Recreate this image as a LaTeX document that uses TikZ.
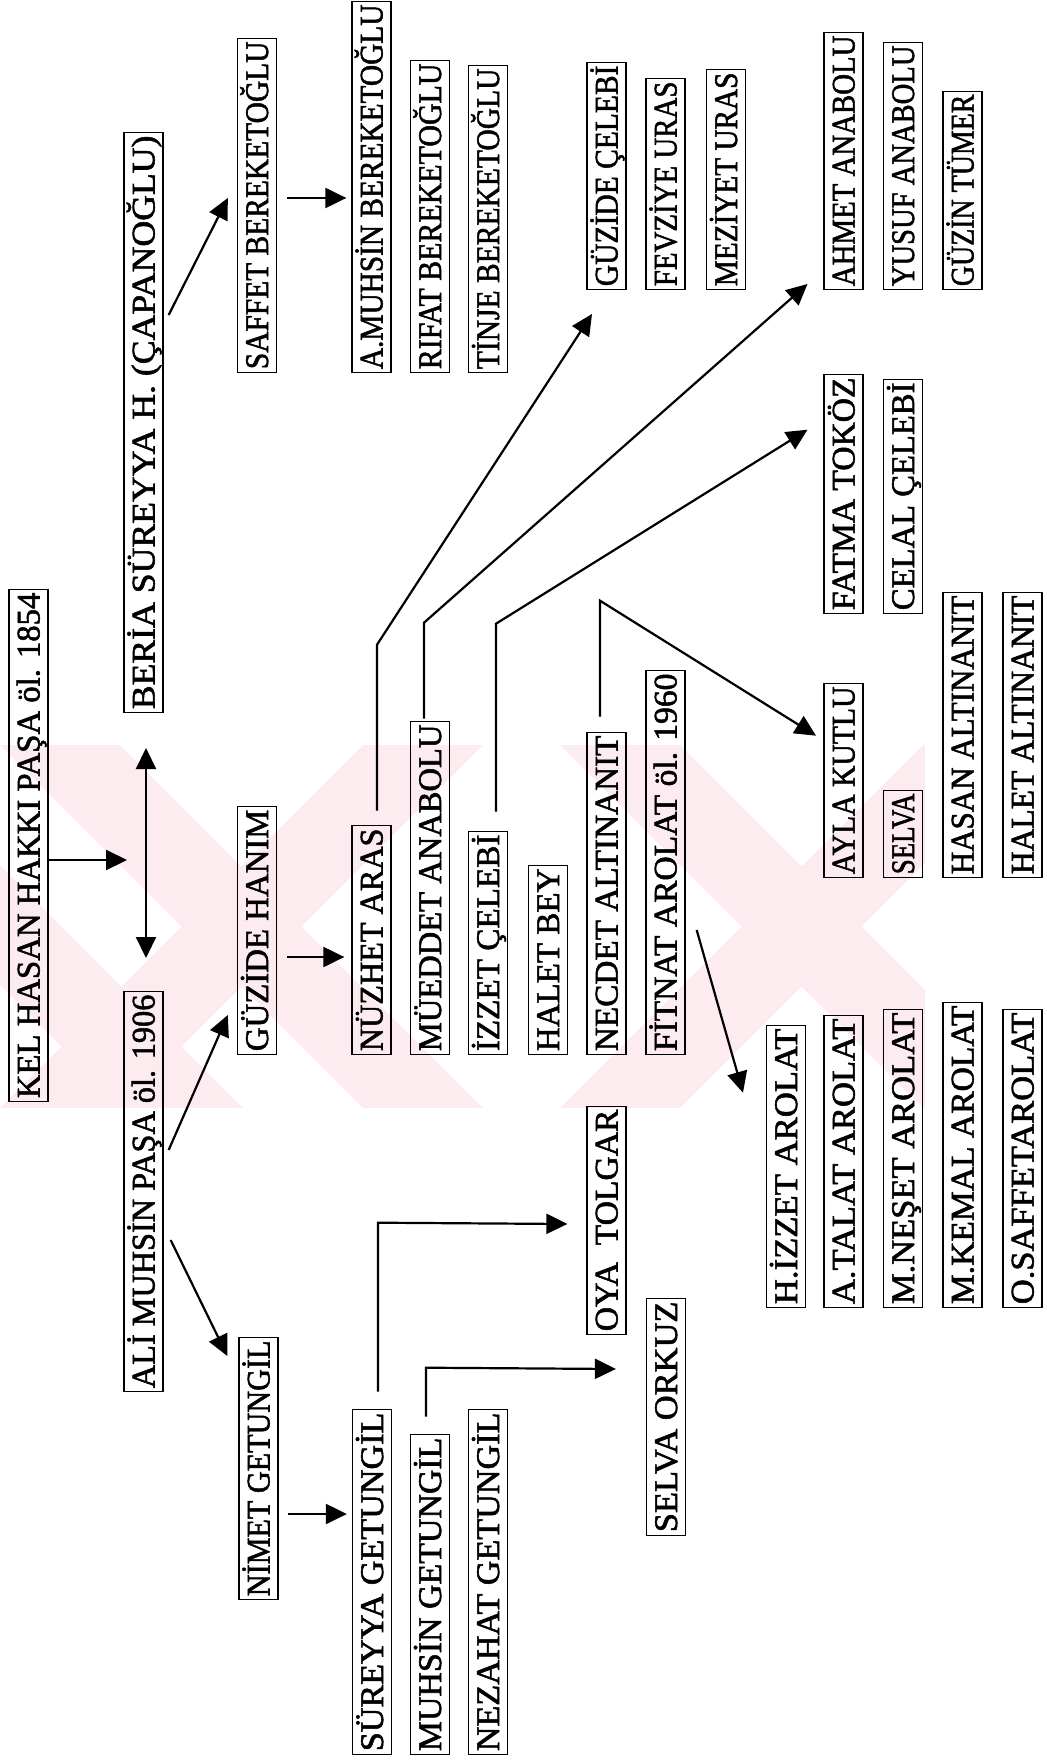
\documentclass[tikz,border=0pt]{standalone}
\usepackage{fontspec}
\setmainfont{Liberation Serif}
\newfontfamily\nmfont{Liberation Serif}[FakeBold=1.6]
\usetikzlibrary{arrows.meta,calc}
\definecolor{wm}{RGB}{253,236,239}
\tikzset{
  nm/.style={draw=black, line width=0.65pt, rotate=90, anchor=west, inner xsep=1.2pt, inner ysep=0pt,
    minimum height=19.5pt, text height=11pt, text depth=0pt, font=\nmfont\fontsize{16.5}{16}\selectfont},
  arr/.style={line width=1.1pt, -{Triangle[length=10.5pt,width=10pt]}},
  darr/.style={line width=1.1pt, {Triangle[length=10.5pt,width=10pt]}-{Triangle[length=10.5pt,width=10pt]}},
  wmark/.style={fill=wm, draw=none},
}
\newcommand\bx[5]{%
  \pgfmathsetmacro\bxlen{(#3-#4)*0.5}%
  \pgfmathsetmacro\bxtxt{\bxlen-3.2}%
  \node[nm, minimum width=\bxlen pt] (#1) at (#2,#3) {\resizebox{\bxtxt pt}{\height}{#5}};}
\begin{document}
\begin{tikzpicture}[x=0.5pt,y=-0.5pt]
\useasboundingbox (0,0) rectangle (1047,1764);
% watermark
\begin{scope}
\clip (0,745) rectangle (925,1108);
\fill[wmark] (0,745) -- (120,745) -- (483,1108) -- (363,1108) -- cycle;
\fill[wmark] (363,745) -- (483,745) -- (120,1108) -- (0,1108) -- cycle;
\fill[wmark] (-240,745) -- (-120,745) -- (243,1108) -- (123,1108) -- cycle;
\fill[wmark] (560,745) -- (680,745) -- (1043,1108) -- (923,1108) -- cycle;
\fill[wmark] (923,745) -- (1043,745) -- (680,1108) -- (560,1108) -- cycle;
\end{scope}
% column 1-2
\bx{KEL}{28.5}{1102}{590}{KEL HASAN HAKKI PAŞA öl. 1854}
\bx{BERIA}{143.5}{713}{133}{BERİA SÜREYYA H. (ÇAPANOĞLU)}
\bx{ALI}{143.5}{1392}{992}{ALİ MUHSİN PAŞA öl. 1906}
% column 3
\bx{SAFFET}{257}{373}{39}{SAFFET BEREKETOĞLU}
\bx{GUZH}{257}{1055}{807}{GÜZİDE HANIM}
\bx{NIMET}{258.5}{1600}{1338}{NİMET GETUNGİL}
% column 4-7
\bx{AMUH}{371.5}{373}{2}{A.MUHSİN BEREKETOĞLU}
\bx{NUZ}{371.5}{1055}{826}{NÜZHET ARAS}
\bx{SURG}{372}{1755}{1410}{SÜREYYA GETUNGİL}
\bx{RIFAT}{430}{373}{61}{RIFAT BEREKETOĞLU}
\bx{MUED}{430}{1055}{722}{MÜEDDET ANABOLU}
\bx{MUHG}{430}{1755}{1435}{MUHSİN GETUNGİL}
\bx{TINJE}{488}{373}{66}{TİNJE BEREKETOĞLU}
\bx{IZZ}{488}{1055}{832}{İZZET ÇELEBİ}
\bx{NEZ}{488}{1755}{1410}{NEZAHAT GETUNGİL}
\bx{HALB}{548}{1055}{866}{HALET BEY}
% column 8-10
\bx{GUZC}{606.5}{290}{63}{GÜZİDE ÇELEBİ}
\bx{NEC}{606.5}{1055}{733}{NECDET ALTINANIT}
\bx{OYA}{606.5}{1335}{1107}{OYA\ \ TOLGAR}
\bx{FEV}{665.5}{290}{79}{FEVZİYE URAS}
\bx{FIT}{665.5}{1055}{671}{FİTNAT AROLAT öl. 1960}
\bx{SELO}{666}{1536}{1299}{SELVA ORKUZ}
\bx{MEZ}{726}{290}{70}{MEZİYET URAS}
% column 11-15
\bx{HIZ}{786}{1308}{1026}{H.İZZET AROLAT}
\bx{AHM}{843.5}{290}{33}{AHMET ANABOLU}
\bx{FAT}{843.5}{614}{375}{FATMA TOKÖZ}
\bx{AYLA}{843.5}{878}{684}{AYLA KUTLU}
\bx{ATAL}{843.5}{1308}{1016}{A.TALAT AROLAT}
\bx{YUS}{903}{290}{43}{YUSUF ANABOLU}
\bx{CEL}{903}{614}{380}{CELAL ÇELEBİ}
\bx{SEL}{903}{878}{791}{SELVA}
\bx{MNES}{903}{1308}{1010}{M.NEŞET AROLAT}
\bx{GUZT}{962.5}{290}{92}{GÜZİN TÜMER}
\bx{HAS}{962.5}{878}{593}{HASAN ALTINANIT}
\bx{MKEM}{962.5}{1308}{1003}{M.KEMAL AROLAT}
\bx{HALA}{1022.5}{878}{593}{HALET ALTINANIT}
\bx{OSAF}{1022.5}{1308}{1010}{O.SAFFETAROLAT}
% connectors
\coordinate (kelT) at (127,860);
\draw[arr] (KEL.south |- kelT) -- (kelT);
\coordinate (dA) at (146,748);
\coordinate (dB) at (146,958);
\draw[darr] (dA) -- (dB);
\draw[arr] ($(BERIA.south |- 0,315)+(5,0)$) -- ($(SAFFET.north |- 0,198)+(-9,0)$);
\draw[arr] ($(ALI.south |- 0,1150)+(5,0)$) -- ($(GUZH.north |- 0,1015)+(-9,0)$);
\draw[arr] ($(ALI.south |- 0,1240)+(7,0)$) -- ($(NIMET.north |- 0,1356)+(-11,0)$);
\draw[arr] ($(SAFFET.south |- 0,198)+(10,0)$) -- ($(AMUH.north |- 0,198)+(-5,0)$);
\draw[arr] ($(GUZH.south |- 0,957)+(10,0)$) -- ($(NUZ.north |- 0,957)+(-7,0)$);
\draw[arr] ($(NIMET.south |- 0,1514)+(9,0)$) -- ($(SURG.north |- 0,1514)+(-5,0)$);
\draw[arr] ($(NUZ.east)+(5.5,-14)$) -- ++(0,-166) -- ($(GUZC.west)+(-14.5,24)$);
\draw[arr] ($(MUED.east)+(-6,-2)$) -- ++(0,-96) -- ($(AHM.west)+(-36,-6)$);
\draw[arr] ($(IZZ.east)+(8,-19)$) -- ++(0,-188) -- ($(FAT.east)+(-36,56)$);
\draw[arr] ($(NEC.east)+(-6.5,-15)$) -- ++(0,-116) -- ($(AYLA.east)+(-27.5,53)$);
\draw[arr] ($(FIT.south |- 0,930)+(11,0)$) -- ($(HIZ.east)+(-43,68)$);
\draw[arr] ($(SURG.east)+(6,-17)$) -- ++(0,-169) -- ($(OYA.north |- 0,1224)+(-19,0)$);
\draw[arr] ($(MUHG.east)+(-4,-17)$) -- ++(0,-49) -- ($(SELO.north |- 0,1369)+(-30,0)$);
\end{tikzpicture}
\end{document}
